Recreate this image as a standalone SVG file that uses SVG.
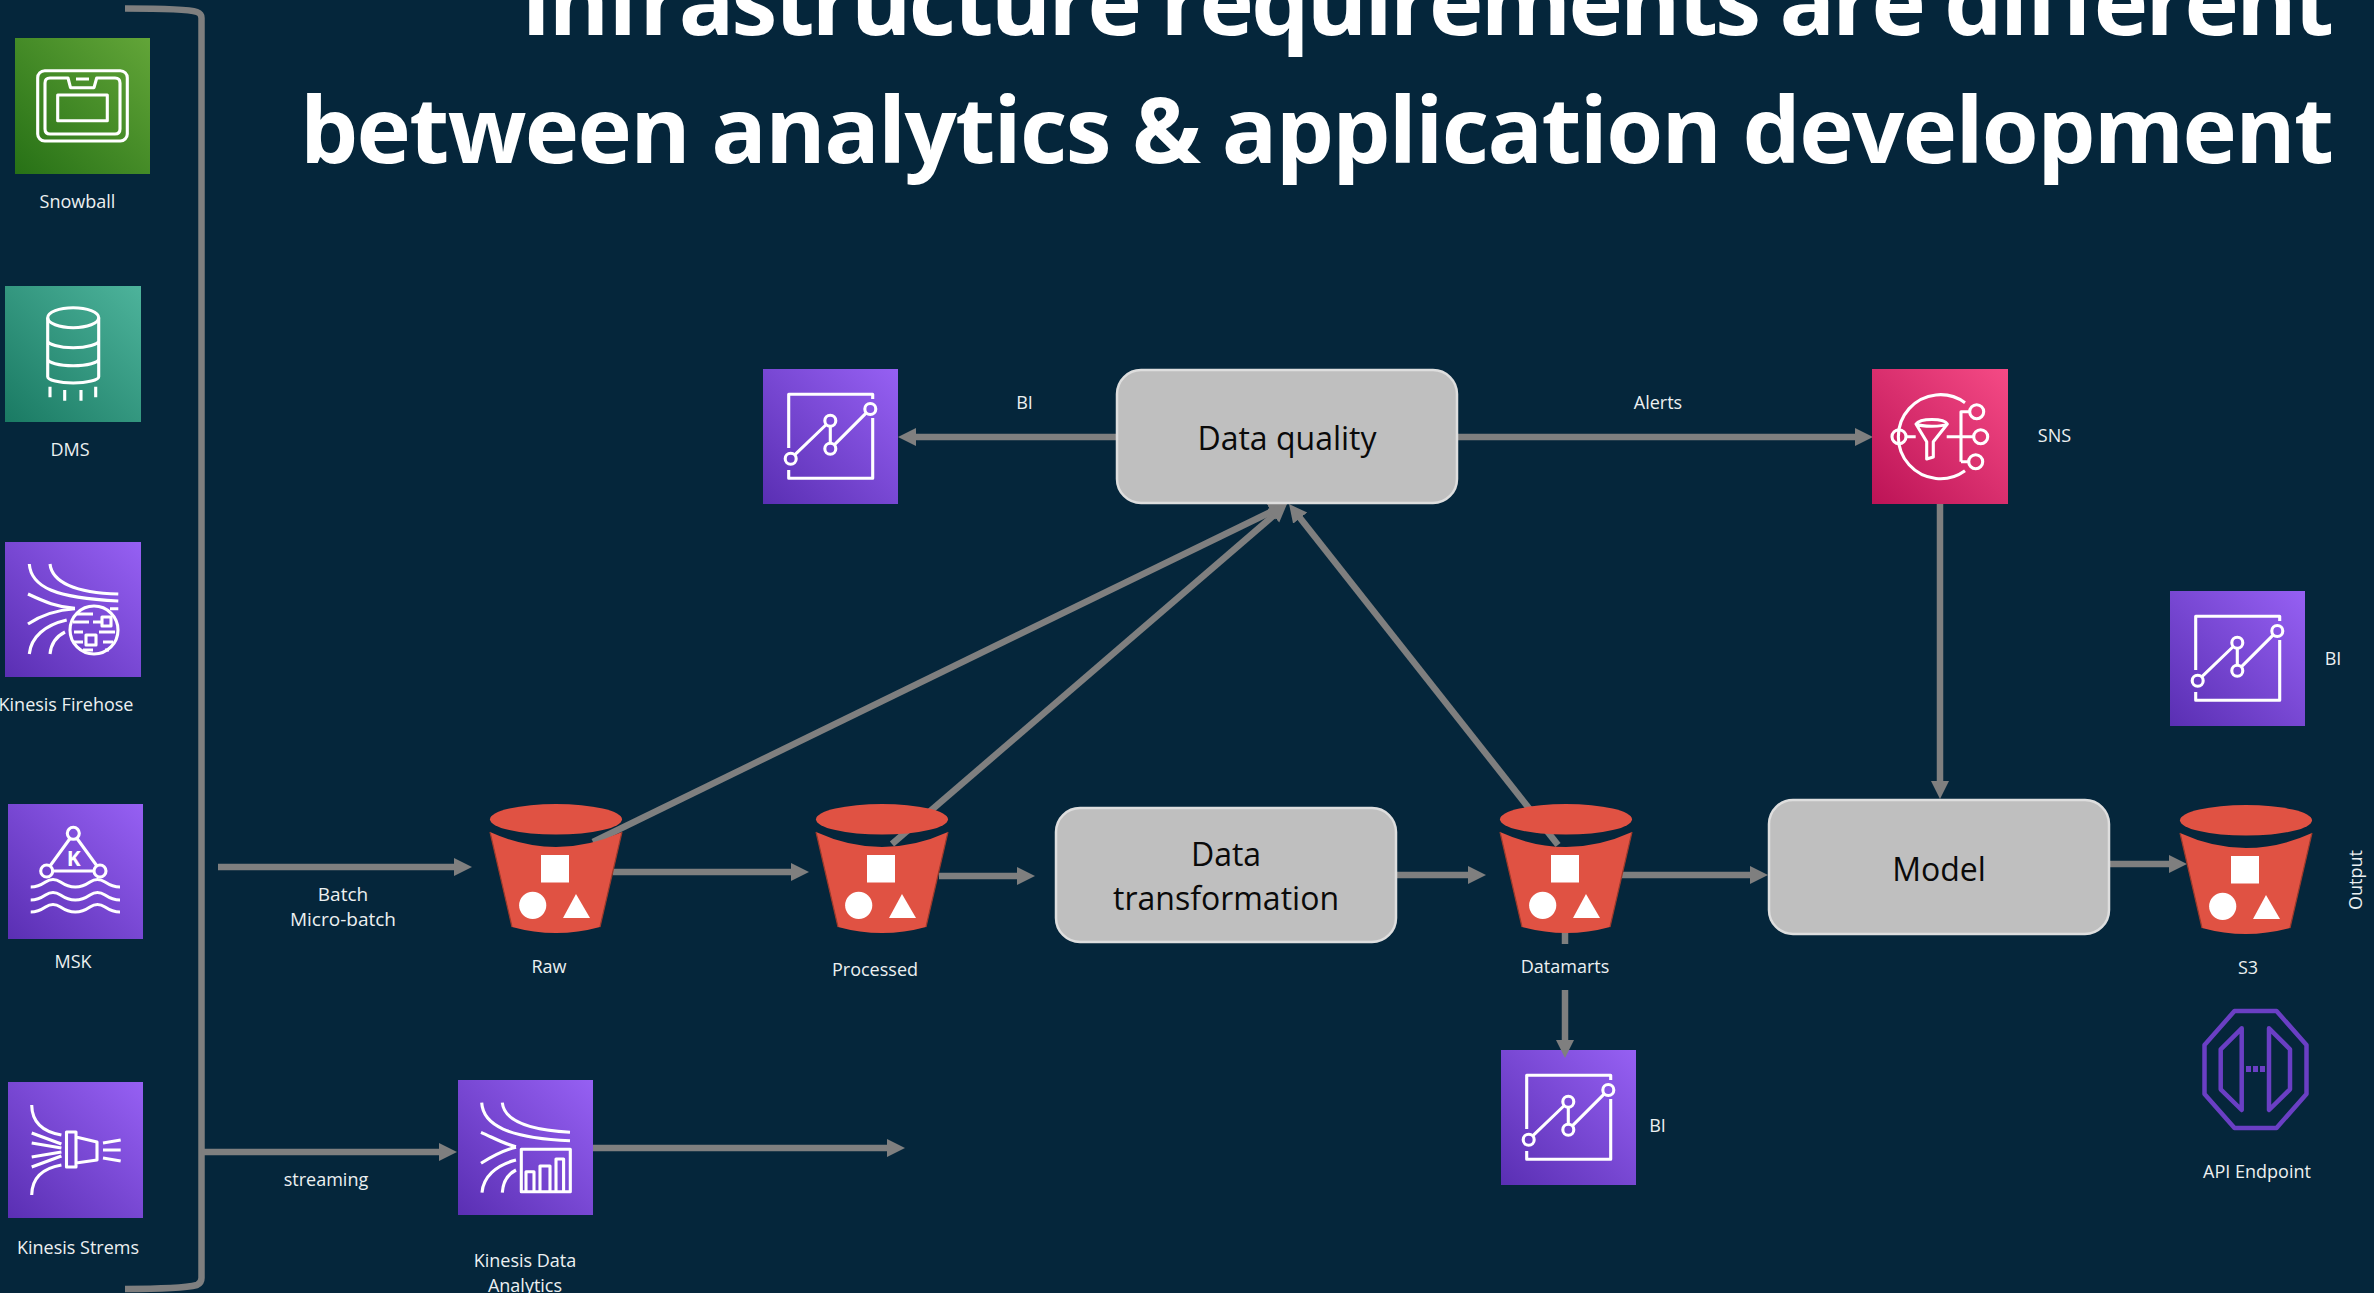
<svg xmlns="http://www.w3.org/2000/svg" width="2374" height="1293" viewBox="0 0 2374 1293">
<style>
.t{font-family:"Open Sans","Noto Sans","DejaVu Sans",sans-serif;font-size:18px;fill:#ecf0f1;text-anchor:middle}
.h{font-family:"Open Sans","Noto Sans",sans-serif;font-weight:700;font-size:92px;fill:#fff;text-anchor:end}
.b{font-family:"Open Sans","Noto Sans",sans-serif;font-size:32px;fill:#0a0a0a;text-anchor:middle}
.box{fill:#bfbfbf;stroke:#dedede;stroke-width:2.5}
.i{fill:none;stroke:#fff;stroke-width:3.1;stroke-linecap:butt;stroke-linejoin:round}
.c{fill:none;stroke:#7f7f7f;stroke-width:6.5}
.a{fill:none;stroke:#7f7f7f;stroke-width:6.5;marker-end:url(#ah)}
.api{fill:none;stroke:#6a3fc4;stroke-width:4.5;stroke-linejoin:round}
</style>
<defs>
<marker id="ah" markerUnits="userSpaceOnUse" markerWidth="19" markerHeight="19" refX="4" refY="9" orient="auto"><path d="M0 0L18 9L0 18Z" fill="#7f7f7f"/></marker>
<linearGradient id="gp" x1="0" y1="1" x2="1" y2="0"><stop offset="0" stop-color="#5a2fb3"/><stop offset="1" stop-color="#9660f3"/></linearGradient>
<linearGradient id="gg" x1="0" y1="1" x2="1" y2="0"><stop offset="0" stop-color="#277116"/><stop offset="1" stop-color="#62a538"/></linearGradient>
<linearGradient id="gt" x1="0" y1="1" x2="1" y2="0"><stop offset="0" stop-color="#1a7a63"/><stop offset="1" stop-color="#4db39b"/></linearGradient>
<linearGradient id="gr" x1="0" y1="1" x2="1" y2="0"><stop offset="0" stop-color="#bc1356"/><stop offset="1" stop-color="#f54a85"/></linearGradient>
<g id="bi">
<rect width="135" height="135" fill="url(#gp)"/>
<path class="i" d="M25.7 79V25.3H109.7V30M109.7 49V109.3H25.7V101"/>
<path class="i" d="M31.7 85.9L63.3 55.5M67.3 57.2V74.2M71.3 75.9L103.3 43.8"/>
<circle class="i" cx="27.7" cy="89.7" r="5.5"/><circle class="i" cx="67.3" cy="51.7" r="5.5"/><circle class="i" cx="67.3" cy="79.7" r="5.5"/><circle class="i" cx="107.3" cy="40" r="5.5"/>
</g>
<g id="bucket">
<path d="M0 28Q66 58 132 28L110 123Q66 135 22 123Z" fill="#e05243"/>
<path d="M0 28L22 123M132 28L110 123" fill="none" stroke="#9c3a2b" stroke-width="1.2"/>
<ellipse cx="66" cy="15.3" rx="66" ry="15.3" fill="#e05243"/>
<rect x="51" y="51" width="28" height="27.5" fill="#fff"/>
<circle cx="42.7" cy="101.3" r="13.6" fill="#fff"/>
<path d="M86 90L100 114H73Z" fill="#fff"/>
</g>
</defs>
<rect width="2374" height="1293" fill="#05263b"/>
<text class="h" x="2334" y="35" textLength="1813" lengthAdjust="spacing">Infrastructure requirements are different</text>
<text class="h" x="2334" y="163" textLength="2034" lengthAdjust="spacing">between analytics &amp; application development</text>
<g id="node-bi-datamarts"><use href="#bi" x="1501" y="1050"/><text class="t" x="1657.5" y="1132">BI</text></g>
<g id="connectors">
<path class="c" d="M125 8.5C160 8.5 188 9 197 12Q201.5 13.5 201.5 18V1278Q201.5 1283 197 1285C185 1288 160 1289 125 1289"/>
<path class="a" d="M218 867H458"/>
<path class="a" d="M201.5 1152H443"/>
<path class="a" d="M593 1148H891"/>
<path class="a" d="M613 872H795"/>
<path class="a" d="M939 876H1021"/>
<path class="a" d="M1396 875H1472"/>
<path class="a" d="M1620 875H1754"/>
<path class="a" d="M2109 864H2173"/>
<path class="a" d="M1116 437H912"/>
<path class="a" d="M1458 437H1859"/>
<path class="a" d="M1940 504V785"/>
<path class="a" d="M593 842L1274.4 510.1"/>
<path class="a" d="M892 844L1276.4 513.1"/>
<path class="a" d="M1558 845L1297.7 515"/>
<path class="a" d="M1565 925V1044"/>
</g>
<g id="label-batch"><text class="t" x="343" y="901" style="font-size:19px">Batch</text><text class="t" x="343" y="926" style="font-size:19px">Micro-batch</text></g>
<g id="label-streaming"><text class="t" x="326" y="1186">streaming</text></g>
<g id="node-snowball" transform="translate(15 38)"><rect width="135" height="136" fill="url(#gg)"/>
<rect class="i" x="22.7" y="32.7" width="89.6" height="70.3" rx="7"/>
<path class="i" d="M53 40H35Q30 40 30 45V91Q30 96 35 96H100Q105 96 105 91V45Q105 40 100 40H81.7L79 49.7H55.5ZM61 41H74"/>
<rect class="i" x="42.7" y="57" width="49.6" height="25.7"/>
<text class="t" x="62.5" y="170">Snowball</text></g>
<g id="node-dms" transform="translate(5 286)"><rect width="136" height="136" fill="url(#gt)"/>
<ellipse class="i" cx="68.2" cy="31.7" rx="25.5" ry="10"/>
<path class="i" d="M42.7 31.7V90.7C42.7 94 54 97 68.2 97S93.7 94 93.7 90.7V31.7M42.7 54.7C42.7 58 54 61.7 68.2 61.7S93.7 58 93.7 54.7M42.7 73C42.7 76.5 54 79.7 68.2 79.7S93.7 76.5 93.7 73M45 100.7V111.3M59.7 104V114.7M76 104V114.7M90.7 100.7V111.3"/>
<text class="t" x="65" y="170">DMS</text></g>
<g id="node-firehose" transform="translate(5 542)"><rect width="136" height="135" fill="url(#gp)"/>
<path class="i" d="M24.3 22C26 45 50 56 113.3 59M45 22C47 40 70 51 113.3 52M23 52C40 60 52 65 70 66.3M23 82C38 72 52 68 70 66.8M24.3 112C26 95 40 83 61.7 78M45 112C46 102 50 95 60 90"/>
<circle class="i" cx="89" cy="88" r="24"/>
<path class="i" d="M105 66.8H113.3M68 80H84M88 80H96M69 90H78M94 90H110M68 100H78M98 100H108M72 72H88M78 108H88M100 108H104"/>
<rect class="i" x="97" y="75" width="9" height="9"/><rect class="i" x="81" y="93" width="10" height="10"/>
<text class="t" x="61" y="169">Kinesis Firehose</text></g>
<g id="node-msk" transform="translate(8 804)"><rect width="135" height="135" fill="url(#gp)"/>
<path class="i" d="M62 34.5L42 62M69 34.5L89 62M45.5 67H85"/>
<circle class="i" cx="65.3" cy="29.3" r="6"/><circle class="i" cx="38.7" cy="67" r="6"/><circle class="i" cx="92" cy="67" r="6"/>
<text x="65.7" y="62" font-family="'Open Sans',sans-serif" font-size="21" font-weight="700" fill="#fff" text-anchor="middle">K</text>
<path class="i" d="M22.7 83Q30 83 37.5 78T52.5 78T67.3 83T82 78T97 78T112 83M22.7 96Q30 96 37.5 91T52.5 91T67.3 96T82 91T97 91T112 96M22.7 108Q30 108 37.5 103T52.5 103T67.3 108T82 103T97 103T112 108"/>
<text class="t" x="65" y="164">MSK</text></g>
<g id="node-kinesis-streams" transform="translate(8 1082)"><rect width="135" height="136" fill="url(#gp)"/>
<path class="i" d="M23.7 23C24 42 36 50 53.4 53M23.7 113C24 94 36 86 53.4 83M23.7 51L53.4 62M23.7 85L53.4 74M23.7 61L53.4 66M23.7 75L53.4 70"/>
<path class="i" d="M58.5 50H68V85H58.5ZM68 55L89 60V78L68 81M95 61L112.7 58M95 68H112.7M95 76L112.7 79"/>
<text class="t" x="70" y="172">Kinesis Strems</text></g>
<g id="node-kda" transform="translate(458 1080)"><rect width="135" height="135" fill="url(#gp)"/>
<path class="i" d="M23.7 22.7C25 45 50 58 112 60.7M44.3 22.7C46 40 70 50 112 52.3M23 52.3C36 58 46 64 58 66.7M23 83.3C36 75 46 70 58 67.2M24 112.7C25 97 38 85 58 80M44.3 112.7C45 102 50 94 58 90"/>
<rect class="i" x="63.3" y="69.3" width="49" height="42.4"/>
<path class="i" d="M68 111V91.7H76V111M82 111V86H92V111M98 111V79H105.6V111"/>
<text class="t" x="67" y="187">Kinesis Data</text><text class="t" x="67" y="212">Analytics</text></g>
<g id="node-raw"><use href="#bucket" x="490" y="804"/><text class="t" x="549" y="973">Raw</text></g>
<g id="node-processed"><use href="#bucket" x="816" y="804"/><text class="t" x="875" y="976">Processed</text></g>
<g id="node-datamarts"><use href="#bucket" x="1500" y="804"/><rect x="1515" y="944" width="100" height="46" fill="#05263b"/><text class="t" x="1565" y="973">Datamarts</text></g>
<g id="node-s3"><use href="#bucket" x="2180" y="805"/><text class="t" x="2248" y="974">S3</text></g>
<g id="node-data-quality"><rect class="box" x="1117" y="370" width="340" height="133" rx="24"/><text class="b" x="1287" y="450">Data quality</text></g>
<g id="node-data-transformation"><rect class="box" x="1056" y="808" width="340" height="134" rx="24"/><text class="b" x="1226" y="866">Data</text><text class="b" x="1226" y="910">transformation</text></g>
<g id="node-model"><rect class="box" x="1769" y="800" width="340" height="134" rx="24"/><text class="b" x="1939" y="881">Model</text></g>
<g id="node-bi-quality"><use href="#bi" x="763" y="369"/><text class="t" x="1024.5" y="409">BI</text></g>
<g id="label-alerts"><text class="t" x="1658" y="409">Alerts</text></g>
<g id="node-sns" transform="translate(1872 369)"><rect width="136" height="135" fill="url(#gr)"/>
<path class="i" d="M93 33.7A42 42 0 1 0 93 101.7"/>
<circle class="i" cx="27" cy="67.7" r="7"/>
<path class="i" d="M34.7 67.7H43.7M74.7 67.7H101.3M89 92.7V42.7H97.5M89 92.7H96.5"/>
<path class="i" d="M44 55C48 49 72 49 75.3 55L61.3 72.7V88L54.7 90V72.7ZM44 55C50 58 70 58 75.3 55"/>
<circle class="i" cx="104.7" cy="42.7" r="7"/><circle class="i" cx="108.7" cy="67.7" r="7"/><circle class="i" cx="103.7" cy="92.7" r="7"/>
<text class="t" x="182.5" y="73">SNS</text></g>
<g id="node-bi-output"><use href="#bi" x="2170" y="591"/><text class="t" x="2333" y="665">BI</text></g>
<g id="label-output"><text class="t" transform="translate(2362 880) rotate(-90)">Output</text></g>
<g id="node-api" transform="translate(2100 780)">
<path class="api" d="M134.5 231H176.5L206.5 265V314L176.5 348H134.5L104.5 314V265Z"/>
<path class="api" d="M141.7 248.3L120.7 269.3V309.3L141.7 330ZM169 248.3L190 269.3V309.3L169 330Z"/>
<path d="M146 286h5v6h-5zM153 286h5v6h-5zM160 286h5v6h-5z" fill="#6a3fc4"/>
<text class="t" x="157" y="398">API Endpoint</text></g>
</svg>
